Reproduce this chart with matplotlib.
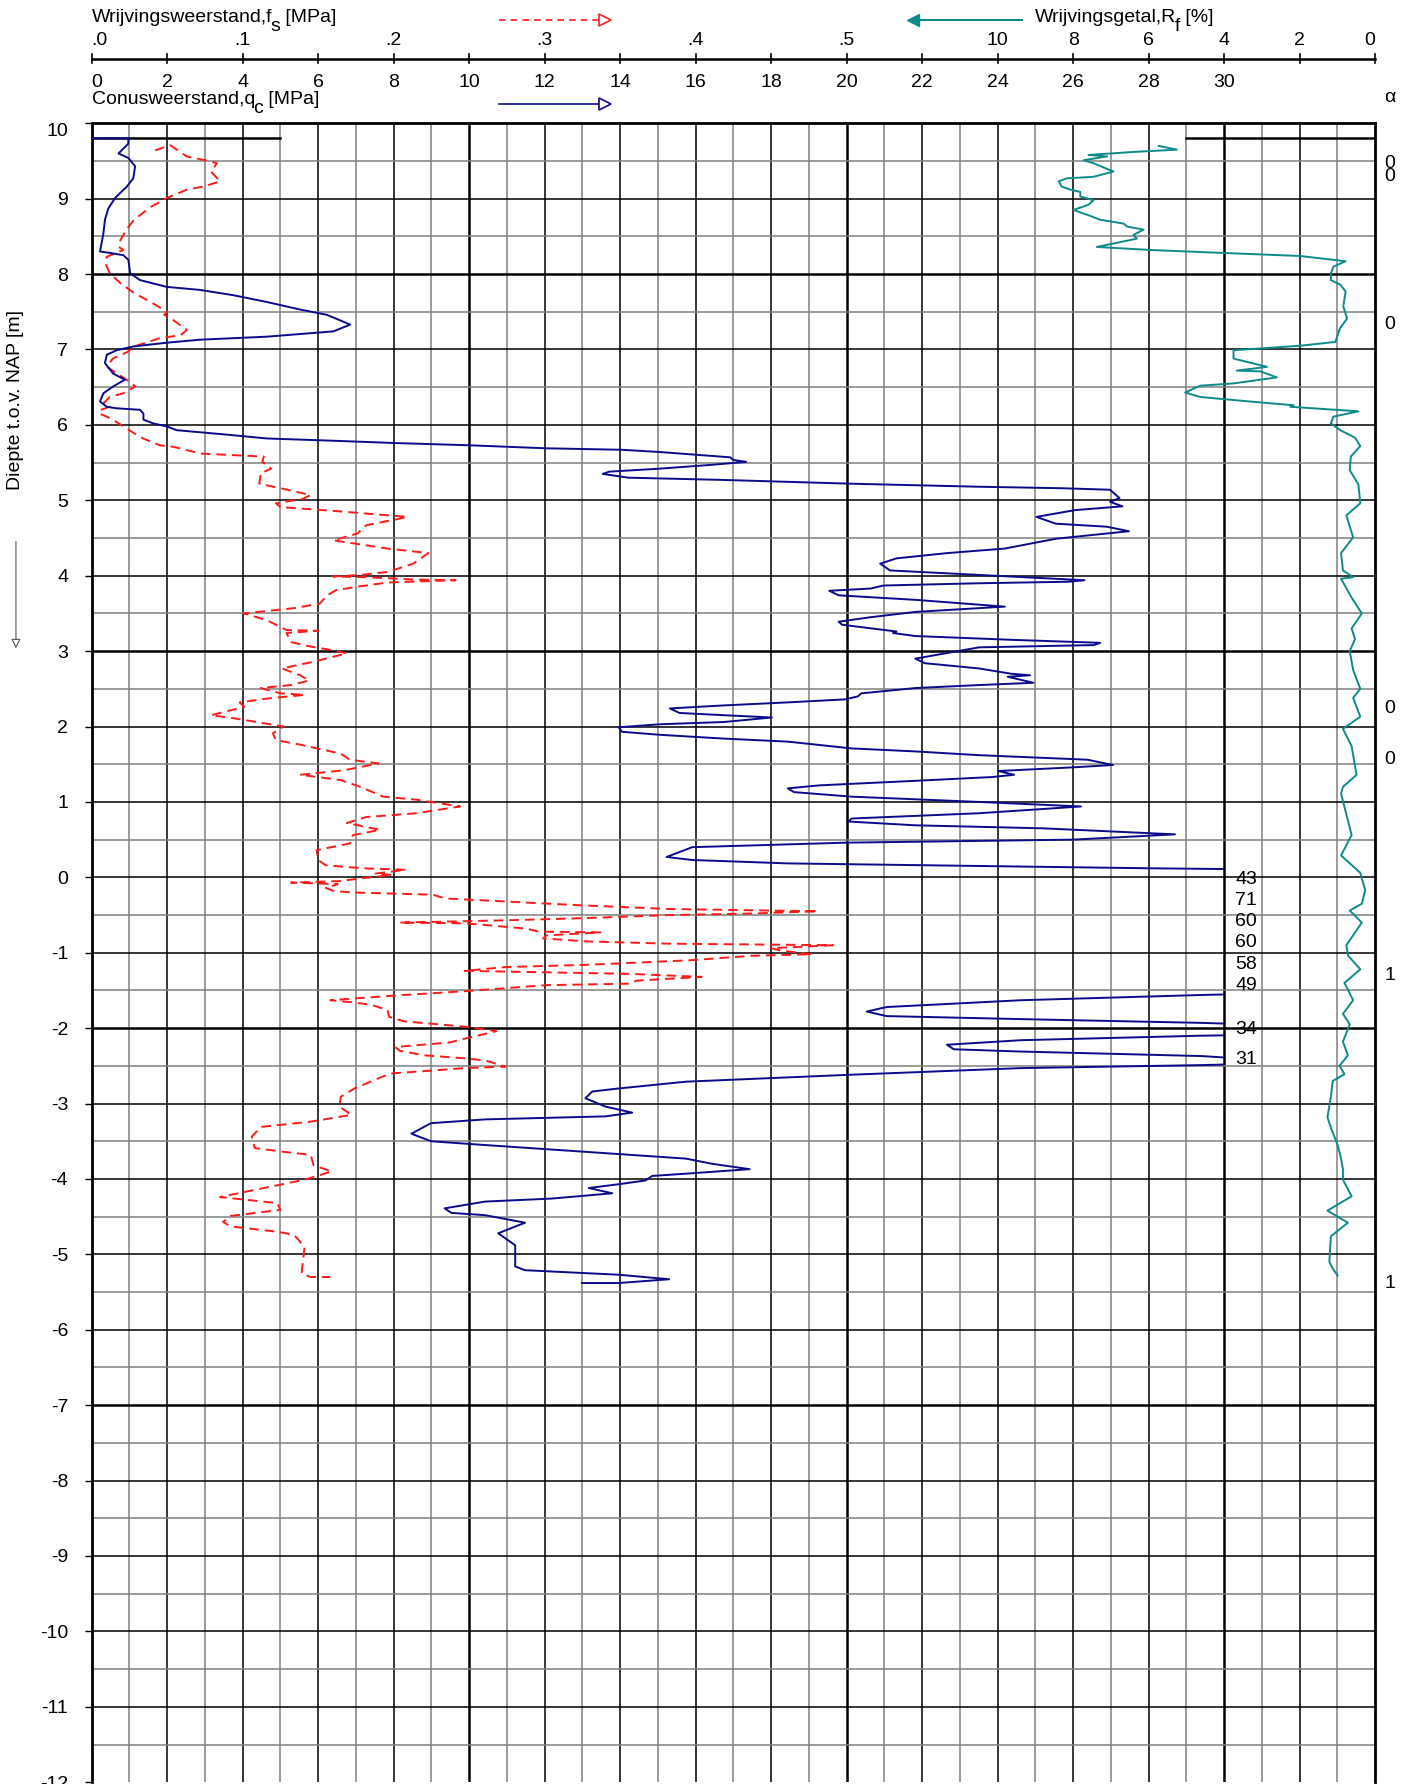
import matplotlib
matplotlib.use('Agg')
import matplotlib.pyplot as plt
from matplotlib.patches import Rectangle, FancyArrowPatch
from matplotlib.transforms import blended_transform_factory

plt.rcParams['font.family'] = ['Liberation Sans', 'DejaVu Sans']
plt.rcParams['font.size'] = 14

# --- data --------------------------------------------------------------
# cone resistance qc [MPa] (values > 30 run off the scale)
qc_depth = [9.80, 9.80, 9.73, 9.60, 9.54, 9.43, 9.27, 9.16, 9.01, 8.87, 8.72, 8.54,
            8.30, 8.28, 8.25, 8.19, 8.01, 7.92, 7.83, 7.79, 7.72, 7.63, 7.53, 7.46,
            7.33, 7.24, 7.17, 7.13, 7.09, 7.04, 6.99, 6.93, 6.82, 6.68, 6.60, 6.51,
            6.42, 6.31, 6.24, 6.22, 6.20, 6.15, 6.07, 6.02, 5.98, 5.93, 5.87, 5.82,
            5.79, 5.76, 5.73, 5.69, 5.67, 5.64, 5.57, 5.535, 5.51, 5.47, 5.42, 5.38,
            5.35, 5.30, 5.27, 5.22, 5.18, 5.16, 5.14, 5.03, 4.98, 4.92, 4.87, 4.78,
            4.69, 4.65, 4.59, 4.49, 4.36, 4.30, 4.23, 4.16, 4.07, 4.01, 3.94, 3.92,
            3.90, 3.87, 3.83, 3.80, 3.74, 3.68, 3.59, 3.52, 3.45, 3.39, 3.35, 3.26,
            3.24, 3.20, 3.15, 3.11, 3.08, 3.05, 2.99, 2.93, 2.90, 2.84, 2.77, 2.70,
            2.68, 2.66, 2.58, 2.55, 2.51, 2.44, 2.40, 2.36, 2.32, 2.28, 2.24, 2.18,
            2.15, 2.12, 2.06, 2.03, 1.99, 1.93, 1.89, 1.84, 1.80, 1.71, 1.67, 1.62,
            1.56, 1.49, 1.46, 1.41, 1.36, 1.33, 1.28, 1.22, 1.18, 1.13, 1.07, 1.00,
            0.94, 0.85, 0.78, 0.74, 0.69, 0.65, 0.57, 0.50, 0.46, 0.40, 0.27, 0.23,
            0.185, 0.12, 0.10, 0.00, -0.30, -0.60, -0.90, -1.15, -1.45, -1.53, -1.56,
            -1.63, -1.72, -1.78, -1.84, -1.88, -1.93, -2.00, -2.08, -2.10, -2.16,
            -2.22, -2.28, -2.31, -2.37, -2.42, -2.47, -2.49, -2.53, -2.62, -2.71,
            -2.80, -2.84, -2.93, -3.04, -3.12, -3.17, -3.21, -3.26, -3.40, -3.50,
            -3.55, -3.61, -3.67, -3.73, -3.80, -3.87, -3.93, -3.96, -4.02, -4.07,
            -4.12, -4.19, -4.26, -4.30, -4.39, -4.45, -4.48, -4.58, -4.72, -4.88,
            -5.16, -5.21, -5.27, -5.33, -5.38, -5.38]
qc_value = [0.00, 0.97, 0.97, 0.71, 0.97, 1.15, 1.10, 0.93, 0.62, 0.44, 0.35, 0.31,
            0.22, 0.49, 0.84, 0.97, 1.02, 1.28, 1.99, 2.87, 3.75, 4.64, 5.52, 6.23,
            6.85, 6.40, 4.64, 2.87, 1.99, 1.10, 0.66, 0.40, 0.35, 0.57, 0.88, 0.57,
            0.31, 0.22, 0.40, 0.66, 1.28, 1.37, 1.37, 1.63, 1.99, 2.25, 3.60, 4.64,
            6.40, 8.00, 9.99, 12.02, 14.05, 15.06, 16.92, 17.00, 17.34, 16.41, 15.06, 13.71,
            13.54, 14.22, 16.75, 20.13, 23.51, 25.71, 26.98, 27.23, 26.98, 27.31, 26.05, 25.03,
            25.54, 26.89, 27.48, 25.54, 24.19, 22.67, 21.32, 20.89, 21.15, 23.51, 26.30, 25.88,
            23.51, 20.98, 20.64, 19.54, 19.79, 21.82, 24.19, 21.82, 20.64, 19.79, 19.88, 21.32,
            21.23, 21.82, 24.36, 26.72, 26.55, 23.51, 22.84, 22.16, 21.82, 22.07, 23.51, 24.36,
            24.86, 24.27, 24.95, 23.51, 21.82, 20.39, 20.30, 19.96, 18.44, 16.75, 15.32, 15.57,
            16.75, 18.02, 16.75, 15.06, 13.96, 14.05, 15.06, 16.75, 18.44, 20.13, 21.82, 23.51,
            26.38, 27.06, 26.05, 24.02, 24.44, 23.85, 21.82, 19.29, 18.44, 18.61, 20.13, 23.51,
            26.21, 23.51, 20.13, 20.05, 21.82, 25.20, 28.70, 26.00, 20.00, 15.91, 15.23, 15.91,
            18.44, 28.04, 32.0, 43.0, 71.0, 60.0, 60.0, 58.0, 49.0, 32.0, 29.4,
            24.61, 21.06, 20.53, 21.06, 24.61, 29.4, 34.0, 32.0, 29.4, 24.61,
            22.66, 22.84, 24.61, 29.4, 31.0, 31.0, 29.4, 24.61, 20.0, 15.74,
            13.96, 13.26, 13.08, 13.61, 14.32, 13.61, 10.42, 8.99, 8.47, 8.99,
            10.42, 12.19, 13.96, 15.74, 16.45, 17.43, 15.74, 14.85, 14.67, 13.96,
            13.17, 13.79, 12.19, 10.42, 9.35, 9.53, 10.42, 11.48, 10.77, 11.22,
            11.22, 11.48, 13.96, 15.30, 13.96, 12.99]

# sleeve friction fs [MPa]
fs_depth = [9.64, 9.71, 9.56, 9.51, 9.47, 9.36, 9.23, 9.16, 9.12, 9.01, 8.89, 8.72,
            8.59, 8.45, 8.36, 8.32, 8.28, 8.23, 8.14, 8.01, 7.88, 7.75, 7.63, 7.50,
            7.46, 7.39, 7.26, 7.19, 7.15, 7.04, 6.97, 6.88, 6.77, 6.68, 6.60, 6.51,
            6.42, 6.37, 6.29, 6.24, 6.20, 6.15, 6.11, 6.07, 5.98, 5.89, 5.82, 5.73,
            5.71, 5.62, 5.58, 5.51, 5.42, 5.36, 5.22, 5.16, 5.07, 5.02, 4.96, 4.91,
            4.86, 4.78, 4.74, 4.67, 4.56, 4.47, 4.43, 4.36, 4.30, 4.16, 4.05, 4.01,
            3.99, 3.98, 3.95, 3.94, 3.91, 3.86, 3.81, 3.74, 3.63, 3.57, 3.50, 3.41,
            3.28, 3.27, 3.24, 3.12, 3.06, 3.01, 2.97, 2.86, 2.77, 2.68, 2.61, 2.55,
            2.51, 2.44, 2.42, 2.37, 2.32, 2.26, 2.15, 2.11, 2.00, 1.91, 1.82, 1.76,
            1.64, 1.56, 1.51, 1.42, 1.36, 1.29, 1.20, 1.07, 1.03, 0.94, 0.85, 0.80,
            0.72, 0.63, 0.56, 0.45, 0.36, 0.23, 0.16, 0.12, 0.10, 0.05, 0.03, -0.01,
            -0.05, -0.07, -0.09, -0.14, -0.18, -0.20, -0.23, -0.28, -0.32, -0.37, -0.42,
            -0.45, -0.48, -0.50, -0.54, -0.57, -0.60, -0.61, -0.68, -0.72, -0.73, -0.77,
            -0.81, -0.85, -0.88, -0.90, -0.94, -0.97, -1.02, -1.04, -1.10, -1.16, -1.19,
            -1.24, -1.26, -1.28, -1.32, -1.37, -1.41, -1.43, -1.51, -1.57, -1.63, -1.66,
            -1.69, -1.76, -1.85, -1.91, -1.98, -2.04, -2.14, -2.19, -2.25, -2.30, -2.36,
            -2.40, -2.43, -2.51, -2.53, -2.60, -2.64, -2.80, -2.91, -3.04, -3.15, -3.24,
            -3.31, -3.44, -3.59, -3.64, -3.68, -3.82, -3.90, -4.01, -4.12, -4.24, -4.32,
            -4.41, -4.49, -4.57, -4.63, -4.70, -4.74, -4.90, -5.25, -5.30, -5.30]
fs_value = [.042, .052, .063, .075, .083, .079, .085, .074, .063, .050, .039, .028,
            .023, .019, .018, .021, .016, .010, .009, .012, .019, .028, .039, .050,
            .048, .054, .063, .059, .045, .028, .024, .014, .010, .017, .023, .029,
            .021, .012, .008, .012, .006, .005, .010, .014, .021, .028, .034, .045,
            .054, .072, .114, .113, .119, .112, .111, .125, .145, .140, .122, .125,
            .160, .209, .200, .182, .176, .160, .173, .196, .223, .213, .196, .178,
            .160, .182, .213, .241, .196, .178, .162, .156, .151, .134, .101, .116,
            .129, .150, .129, .132, .145, .160, .169, .147, .126, .138, .144, .132,
            .112, .125, .141, .116, .098, .101, .079, .094, .127, .120, .122, .138,
            .165, .171, .190, .167, .138, .165, .178, .193, .215, .244, .215, .182,
            .169, .191, .173, .171, .149, .150, .155, .180, .208, .188, .199, .180,
            .164, .132, .163, .155, .160, .172, .226, .234, .274, .323, .383,
            .481, .437, .383, .328, .274, .204, .247, .288, .296, .337, .301,
            .299, .328, .383, .491, .450, .456, .477, .437, .396, .328, .274,
            .247, .301, .356, .404, .361, .356, .301, .247, .199, .158, .174,
            .185, .196, .197, .207, .247, .268, .247, .237, .201, .204, .220,
            .247, .261, .274, .247, .199, .193, .174, .165, .164, .172, .145,
            .112, .106, .108, .127, .145, .147, .159, .141, .114, .085, .123,
            .125, .092, .087, .092, .123, .134, .141, .139, .145, .158]

# friction ratio Rf [%]
rf_depth = [9.70, 9.65, 9.62, 9.58, 9.56, 9.51, 9.47, 9.36, 9.29, 9.27, 9.23, 9.16,
            9.12, 9.09, 9.03, 8.98, 8.92, 8.85, 8.78, 8.72, 8.67, 8.63, 8.59, 8.52,
            8.47, 8.36, 8.32, 8.28, 8.24, 8.17, 8.10, 8.01, 7.92, 7.86, 7.77, 7.57,
            7.41, 7.28, 7.10, 7.05, 6.99, 6.88, 6.77, 6.72, 6.71, 6.63, 6.55, 6.52,
            6.43, 6.37, 6.31, 6.26, 6.24, 6.18, 6.11, 6.02, 5.93, 5.83, 5.72, 5.58,
            5.40, 5.21, 4.96, 4.80, 4.51, 4.30, 4.07, 3.98, 3.96, 3.71, 3.50, 3.30,
            3.16, 3.00, 2.75, 2.50, 2.38, 2.13, 1.97, 1.74, 1.36, 1.20, 1.11, 0.56,
            0.29, 0.06, -0.17, -0.35, -0.44, -0.60, -0.90, -1.04, -1.22, -1.40, -1.63,
            -1.81, -1.95, -2.18, -2.36, -2.50, -2.61, -2.70, -2.91, -3.18, -3.32, -3.55,
            -3.73, -3.87, -4.01, -4.23, -4.42, -4.58, -4.76, -5.10, -5.19, -5.28]
rf_value = [5.73, 5.25, 6.40, 7.59, 7.10, 7.72, 7.46, 6.93, 7.46, 8.16, 8.38, 8.30,
            8.07, 7.81, 7.81, 7.46, 7.59, 7.99, 7.59, 7.28, 6.66, 6.57, 6.13, 6.40,
            6.31, 7.37, 5.96, 4.01, 1.98, 0.78, 1.10, 1.17, 1.17, 0.92, 0.78, 0.84,
            0.74, 0.93, 1.05, 1.98, 3.75, 3.75, 2.86, 3.66, 3.04, 2.60, 3.75, 4.63,
            5.03, 4.63, 3.31, 2.16, 2.24, 0.44, 1.10, 1.17, 0.92, 0.53, 0.39, 0.64,
            0.67, 0.44, 0.39, 0.76, 0.58, 0.90, 0.85, 0.58, 0.90, 0.62, 0.35, 0.62,
            0.53, 0.67, 0.58, 0.39, 0.58, 0.39, 0.85, 0.62, 0.49, 0.85, 0.90, 0.62,
            0.90, 0.39, 0.26, 0.35, 0.67, 0.35, 0.76, 0.71, 0.39, 0.81, 0.58,
            0.85, 0.67, 0.85, 0.72, 0.94, 0.81, 1.12, 1.17, 1.26, 1.17, 0.99,
            0.90, 0.85, 0.85, 0.62, 1.26, 0.72, 1.17, 1.21, 1.12, 0.99]

# off-scale qc maxima and alpha column
over_depth = [-0.03, -0.31, -0.59, -0.87, -1.16, -1.44, -2.02, -2.42]
over_value = ['43', '71', '60', '60', '58', '49', '34', '31']
alpha_depth = [9.47, 9.29, 7.33, 2.24, 1.56, -1.30, -5.39]
alpha_value = ['0', '0', '0', '0', '0', '1', '1']

qc_ticks = list(range(0, 32, 2))
fs_ticks = [0.0, 0.1, 0.2, 0.3, 0.4, 0.5]
fs_labels = ['.0', '.1', '.2', '.3', '.4', '.5']
rf_ticks = [10, 8, 6, 4, 2, 0]

QC_MAX = 34.0      # right edge of the chart in qc units
FS_SCALE = 40.0    # 0.1 MPa fs = 4 MPa qc
RF_ZERO = 34.0     # Rf = 0 at the right edge, 1 % per MPa
FS = 14

NAVY = '#0a0a8c'
RED = '#ff1a1a'
TEAL = '#0f8a8a'

fig = plt.figure(figsize=(14.11, 17.84), dpi=100)
ax = fig.add_axes([0.065, 0.001, 0.9095, 0.9299])
ax.set_xlim(0, QC_MAX)
ax.set_ylim(-12, 10)

# grid: black every 2 MPa / 1 m, grey in between, heavier every 10 MPa / 5 m
for x in range(1, 34):
    if x % 10 == 0:
        ax.axvline(x, color='black', lw=1.8, zorder=1)
    elif x % 2 == 0:
        ax.axvline(x, color='black', lw=1.1, zorder=1)
    else:
        ax.axvline(x, color='#808080', lw=1.1, zorder=1)
for i in range(-23, 20):
    y = i / 2
    if i % 2 == 0:
        lw = 1.8 if (int(y) - 8) % 5 == 0 else 1.1
        ax.axhline(y, color='black', lw=lw, zorder=1)
    else:
        ax.axhline(y, color='#808080', lw=1.1, zorder=1)

# surface marker
ax.plot([0, 5], [9.8, 9.8], color='black', lw=1.8, zorder=2)
ax.plot([29, 34], [9.8, 9.8], color='black', lw=1.8, zorder=2)

for s in ['left', 'top', 'right']:
    ax.spines[s].set_linewidth(2.0)
ax.spines['bottom'].set_visible(False)

# curves
fs_x = [v * FS_SCALE for v in fs_value]
ax.plot(fs_x, fs_depth, color=RED, lw=1.4, ls=(0, (5, 3)), zorder=3)

qc_line, = ax.plot(qc_value, qc_depth, color=NAVY, lw=1.4, zorder=4)
qc_line.set_clip_path(Rectangle((0, -12), 30, 22, transform=ax.transData))

rf_x = [RF_ZERO - v for v in rf_value]
ax.plot(rf_x, rf_depth, color=TEAL, lw=1.4, zorder=3)

for d, t in zip(over_depth, over_value):
    ax.text(30.3, d, t, ha='left', va='center', fontsize=FS)
for d, t in zip(alpha_depth, alpha_value):
    ax.text(34.4, d, t, ha='center', va='center', fontsize=FS, clip_on=False)

# y axis
ax.set_yticks(range(-12, 11))
ax.set_yticklabels([str(v) for v in range(-12, 11)])
ax.get_yticklabels()[-1].set_va('top')
ax.tick_params(axis='y', length=5, width=1.0, pad=12, labelsize=FS)
ax.set_xticks([])

fig.text(0.0113, 0.776, 'Diepte t.o.v. NAP [m]', rotation=90,
         ha='center', va='center', fontsize=FS)
fig.add_artist(FancyArrowPatch(
    (0.0113, 0.698), (0.0113, 0.635), transform=fig.transFigure,
    arrowstyle='-|>', mutation_scale=14, lw=0.8, color='#555555', fc='white'))

# header scales
tr = blended_transform_factory(ax.transData, fig.transFigure)
ax.plot([0, QC_MAX], [0.967, 0.967], transform=tr, color='black', lw=1.8, clip_on=False)
for x in range(0, 35, 2):
    ax.plot([x, x], [0.9645, 0.9695], transform=tr, color='black', lw=1.2, clip_on=False)

for v, t in zip(fs_ticks, fs_labels):
    ax.text(v * FS_SCALE, 0.9775, t, transform=tr, ha='left' if v == 0 else 'center',
            va='center', fontsize=FS)
for v in rf_ticks:
    ax.text(RF_ZERO - v, 0.9775, str(v), transform=tr, ha='right' if v == 0 else 'center',
            va='center', fontsize=FS)
for v in qc_ticks:
    ax.text(v, 0.9535, str(v), transform=tr, ha='left' if v == 0 else 'center',
            va='center', fontsize=FS)


def sub_title(x, y, head, sub, tail):
    """Title with a full-size, lowered subscript."""
    t1 = ax.text(x, y, head, transform=tr, ha='left', va='bottom', fontsize=FS)
    t2 = ax.annotate(sub, xy=(1, 0), xycoords=t1, xytext=(-1.2, -6.5),
                     textcoords='offset points', ha='left', va='bottom', fontsize=FS)
    ax.annotate(tail, xy=(1, 0), xycoords=t2, xytext=(0, 6.5),
                textcoords='offset points', ha='left', va='bottom', fontsize=FS)


sub_title(0, 0.9855, 'Wrijvingsweerstand,f', 's', ' [MPa]')
sub_title(0, 0.9395, 'Conusweerstand,q', 'c', ' [MPa]')
sub_title(25.0, 0.9855, 'Wrijvingsgetal,R', 'f', ' [%]')
ax.text(34.4, 0.9455, '\u03b1', transform=tr, ha='center', va='center', fontsize=FS)

# legend arrows
ax.plot([10.8, 13.6], [0.9888, 0.9888], transform=tr, color=RED, lw=1.2,
        ls=(0, (4, 3)), clip_on=False)
ax.plot([13.6], [0.9888], transform=tr, marker='>', ms=8, mfc='white', mec=RED,
        mew=1.2, clip_on=False)
ax.plot([10.8, 13.6], [0.9415, 0.9415], transform=tr, color=NAVY, lw=1.2, clip_on=False)
ax.plot([13.6], [0.9415], transform=tr, marker='>', ms=8, mfc='white', mec=NAVY,
        mew=1.2, clip_on=False)
ax.plot([21.9, 24.65], [0.9888, 0.9888], transform=tr, color=TEAL, lw=1.5, clip_on=False)
ax.plot([21.75], [0.9888], transform=tr, marker='<', ms=8, mfc=TEAL, mec=TEAL, clip_on=False)

fig.savefig('out.png', dpi=100)
